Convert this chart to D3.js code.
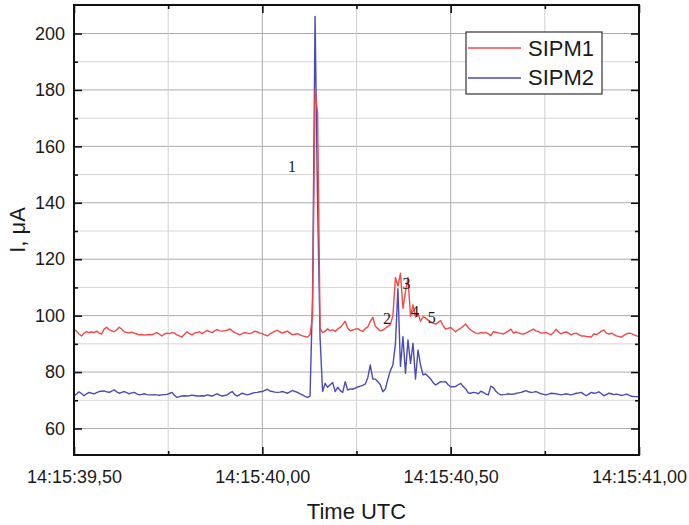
<!DOCTYPE html>
<html>
<head>
<meta charset="utf-8">
<script src="https://cdn.jsdelivr.net/npm/d3@7"></script>
<style>
  body { margin: 0; background: #fff; }
  svg text { font-family: "Liberation Sans", Arial, sans-serif; fill: #1a1a1a; }
</style>
</head>
<body>
<div id="chart"></div>
<script>
// sampling grid of the recording (seconds after 14:15:00), 150 samples per second
var T0 = 39.5, DT = 1 / 150;

var sipm1 = [
  95.0, 94.5, 93.5, 92.8, 93.8, 94.3, 94.0, 94.2, 94.0, 94.5, 93.8, 93.5, 95.2, 95.9, 95.0, 94.6,
  94.3, 95.0, 95.9, 95.2, 94.3, 94.0, 93.9, 94.1, 93.8, 93.5, 93.2, 93.3, 93.1, 93.2, 93.3, 93.2,
  93.6, 94.0, 93.4, 92.8, 93.5, 93.8, 93.6, 94.0, 93.8, 93.2, 92.8, 92.4, 93.4, 94.3, 93.6, 93.2,
  93.8, 94.0, 94.3, 93.6, 94.2, 94.8, 94.3, 94.0, 94.6, 95.0, 94.6, 94.5, 94.7, 94.8, 95.3, 94.6,
  94.0, 93.6, 93.2, 93.6, 94.0, 93.8, 93.6, 94.0, 94.5, 94.2, 93.8, 93.6, 93.2, 92.8, 93.5, 94.0,
  94.5, 94.8, 94.2, 93.8, 94.2, 94.5, 93.8, 93.2, 93.4, 93.6, 93.2, 92.8, 92.6, 92.4, 93.2, 100.0,
  180.0, 172.0, 95.5, 94.0, 94.5, 95.3, 94.6, 95.0, 94.4, 95.3, 95.8, 96.8, 98.0, 95.5, 94.6, 94.9,
  95.2, 95.4, 94.8, 94.4, 95.4, 96.0, 98.0, 99.4, 96.2, 95.4, 94.6, 94.9, 95.5, 96.2, 96.8, 100.0,
  113.5, 110.5, 115.0, 102.6, 108.5, 113.5, 99.8, 103.8, 99.6, 100.8, 98.0, 99.6, 99.2, 98.4, 97.9, 97.3,
  97.0, 97.6, 98.2, 96.4, 95.2, 95.5, 95.8, 95.0, 94.3, 95.0, 95.5, 96.3, 97.0, 95.8, 94.9, 94.3,
  93.8, 93.6, 94.0, 93.8, 94.0, 93.6, 92.9, 94.3, 94.1, 93.9, 93.7, 93.5, 94.0, 94.6, 95.2, 93.8,
  94.2, 93.9, 93.6, 93.5, 93.8, 94.3, 94.8, 95.2, 94.6, 94.3, 93.8, 93.9, 94.0, 93.6, 93.2, 94.0,
  95.2, 94.2, 93.5, 94.0, 94.2, 93.8, 93.2, 93.6, 93.8, 93.3, 92.8, 92.8, 92.6, 92.5, 92.4, 93.5,
  93.3, 93.8, 94.5, 94.9, 93.8, 93.5, 93.8, 93.3, 92.8, 92.6, 92.4, 93.0, 93.5, 93.8, 93.6, 93.2,
  92.8, 92.6
];

var sipm2 = [
  71.5, 72.2, 73.0, 72.4, 71.6, 72.3, 72.8, 72.5, 72.3, 72.7, 73.1, 73.2, 73.3, 73.0, 72.8, 73.2,
  73.7, 73.0, 72.5, 72.8, 73.1, 72.7, 72.3, 72.6, 72.8, 72.3, 71.9, 72.1, 72.3, 72.0, 71.9, 71.9,
  72.0, 71.9, 71.8, 71.9, 72.0, 72.1, 72.4, 72.8, 71.8, 71.0, 71.3, 71.5, 71.6, 71.5, 71.6, 71.8,
  71.7, 71.5, 71.5, 71.6, 71.5, 71.9, 71.7, 71.5, 71.9, 72.3, 71.8, 71.5, 71.7, 71.9, 72.6, 73.1,
  72.0, 71.5, 72.0, 72.5, 72.2, 71.9, 72.2, 72.5, 72.7, 72.8, 73.0, 73.1, 73.5, 73.9, 73.3, 73.1,
  72.9, 72.8, 72.9, 73.1, 72.8, 72.5, 73.0, 73.5, 73.1, 72.8, 72.3, 71.9, 71.4, 71.0, 71.5, 107.0,
  206.0, 140.0, 92.0, 73.1, 76.0, 74.6, 75.5, 76.3, 73.1, 74.6, 73.4, 72.8, 76.6, 73.6, 74.0, 73.9,
  74.3, 74.7, 75.0, 75.3, 75.8, 78.0, 82.5, 77.5, 77.5, 76.6, 75.5, 73.0, 74.0, 77.5, 80.5, 82.5,
  90.0, 109.5, 82.0, 92.5, 79.6, 91.4, 83.1, 90.2, 77.5, 87.8, 82.5, 79.0, 79.3, 78.5, 77.6, 76.3,
  75.4, 76.0, 76.6, 76.5, 76.6, 75.5, 74.8, 74.8, 74.9, 75.5, 76.0, 74.9, 74.0, 72.6, 72.5, 72.8,
  72.7, 72.3, 73.2, 72.8, 72.2, 71.9, 75.0, 74.5, 73.2, 72.4, 71.9, 72.0, 72.1, 72.3, 72.1, 72.2,
  72.4, 72.6, 72.8, 73.1, 73.4, 73.0, 72.8, 72.9, 73.1, 72.7, 72.3, 72.1, 71.9, 72.2, 72.5, 72.4,
  72.3, 72.1, 71.9, 72.1, 72.3, 72.1, 71.9, 72.2, 72.5, 72.6, 72.8, 72.2, 71.6, 72.2, 72.8, 72.5,
  72.6, 73.0, 72.4, 71.6, 72.0, 72.5, 72.3, 72.0, 72.2, 72.0, 71.7, 71.9, 72.2, 71.8, 71.4, 71.3,
  71.3, 71.2
];

var seriesNames = ['SIPM1', 'SIPM2'];
var seriesColors = ['#f24848', '#4a4ab8'];

var xTicks = [39.5, 40.0, 40.5, 41.0];
var xTickLabels = ['14:15:39,50', '14:15:40,00', '14:15:40,50', '14:15:41,00'];
var xMinor = [39.75, 40.25, 40.75];
var yTicks = [60, 80, 100, 120, 140, 160, 180, 200];
var yMinor = [70, 90, 110, 130, 150, 170, 190];

// peak labels in data units (time, value at baseline)
var peakLabels = ['1', '2', '3', '4', '5'];
var peakTimes = [40.079, 40.331, 40.383, 40.405, 40.450];
var peakValues = [150.9, 97.1, 109.5, 99.5, 97.4];

var margin = {top: 5, right: 50, bottom: 70, left: 74},
    width = 689 - margin.left - margin.right,
    height = 525 - margin.top - margin.bottom;

var svg = d3.select('#chart')
  .append('svg')
    .attr('width', 689)
    .attr('height', 525)
  .append('g')
    .attr('transform', 'translate(' + margin.left + ',' + margin.top + ')');

var x = d3.scaleLinear().domain([39.5, 41.0]).range([0, width]);
var y = d3.scaleLinear().domain([50.6, 210.1]).range([height, 0]);

// grid
svg.append('g').selectAll('line')
  .data(yMinor)
  .enter().append('line')
    .attr('x1', 0).attr('x2', width)
    .attr('y1', function(d) { return y(d); }).attr('y2', function(d) { return y(d); })
    .attr('stroke', '#d6d6d6').attr('stroke-width', 1);
svg.append('g').selectAll('line')
  .data(yTicks)
  .enter().append('line')
    .attr('x1', 0).attr('x2', width)
    .attr('y1', function(d) { return y(d); }).attr('y2', function(d) { return y(d); })
    .attr('stroke', '#ababab').attr('stroke-width', 1);
svg.append('g').selectAll('line')
  .data(xMinor)
  .enter().append('line')
    .attr('y1', 0).attr('y2', height)
    .attr('x1', function(d) { return x(d); }).attr('x2', function(d) { return x(d); })
    .attr('stroke', '#d0d0d0').attr('stroke-width', 1);
svg.append('g').selectAll('line')
  .data(xTicks.slice(1, 3))
  .enter().append('line')
    .attr('y1', 0).attr('y2', height)
    .attr('x1', function(d) { return x(d); }).attr('x2', function(d) { return x(d); })
    .attr('stroke', '#ababab').attr('stroke-width', 1);

// lines, SIPM1 drawn last so the red spike stays visible
var line = d3.line()
  .x(function(d, i) { return x(T0 + i * DT); })
  .y(function(d) { return y(d); });

[[sipm2, seriesColors[1]], [sipm1, seriesColors[0]]].forEach(function(s) {
  svg.append('path')
    .datum(s[0])
    .attr('fill', 'none')
    .attr('stroke', s[1])
    .attr('stroke-width', 1.4)
    .attr('stroke-linejoin', 'round')
    .attr('d', line);
});

// axes: ticks pointing inward on all four sides
function styleAxis(g) {
  g.select('.domain').remove();
  g.selectAll('line').attr('stroke', '#111').attr('stroke-width', 1.6);
  g.selectAll('text').style('font-size', '18px').attr('fill', '#1a1a1a');
}

svg.append('g')
    .attr('transform', 'translate(0,' + height + ')')
    .call(d3.axisBottom(x).tickValues(xTicks).tickSize(-8).tickPadding(15.5)
      .tickFormat(function(d, i) { return xTickLabels[i]; }))
    .call(styleAxis);
svg.append('g')
    .attr('transform', 'translate(0,' + height + ')')
    .call(d3.axisBottom(x).tickValues(xMinor).tickSize(-4).tickFormat(''))
    .call(styleAxis);
svg.append('g')
    .call(d3.axisTop(x).tickValues(xTicks).tickSize(-8).tickFormat(''))
    .call(styleAxis);
svg.append('g')
    .call(d3.axisTop(x).tickValues(xMinor).tickSize(-4).tickFormat(''))
    .call(styleAxis);

svg.append('g')
    .call(d3.axisLeft(y).tickValues(yTicks).tickSize(-8).tickPadding(9))
    .call(styleAxis);
svg.append('g')
    .call(d3.axisLeft(y).tickValues(yMinor).tickSize(-4).tickFormat(''))
    .call(styleAxis);
svg.append('g')
    .attr('transform', 'translate(' + width + ',0)')
    .call(d3.axisRight(y).tickValues(yTicks).tickSize(-8).tickFormat(''))
    .call(styleAxis);
svg.append('g')
    .attr('transform', 'translate(' + width + ',0)')
    .call(d3.axisRight(y).tickValues(yMinor).tickSize(-4).tickFormat(''))
    .call(styleAxis);

// frame
svg.append('rect')
    .attr('width', width).attr('height', height)
    .attr('fill', 'none').attr('stroke', '#111').attr('stroke-width', 2);

// axis titles
svg.append('text')
    .attr('x', width / 2).attr('y', height + 64)
    .attr('text-anchor', 'middle')
    .style('font-size', '22px')
    .text('Time UTC');
svg.append('text')
    .attr('transform', 'translate(' + (25 - margin.left) + ',' + (height / 2) + ')rotate(-90)')
    .attr('text-anchor', 'middle')
    .style('font-size', '22px')
    .text('I, \u03bcA');

// peak numbers
svg.append('g').selectAll('text')
  .data(peakLabels)
  .enter().append('text')
    .attr('x', function(d, i) { return x(peakTimes[i]); })
    .attr('y', function(d, i) { return y(peakValues[i]); })
    .attr('text-anchor', 'middle')
    .style('font-family', '"Liberation Serif", "Times New Roman", serif')
    .style('font-size', '16px')
    .attr('fill', '#111')
    .text(function(d) { return d; });

// legend
var legend = svg.append('g').attr('transform', 'translate(' + (466 - margin.left) + ',' + (32 - margin.top) + ')');
legend.append('rect')
    .attr('width', 136).attr('height', 62)
    .attr('fill', '#fff').attr('stroke', '#333').attr('stroke-width', 1.2);
seriesNames.forEach(function(name, k) {
  legend.append('line')
    .attr('x1', 2).attr('x2', 55)
    .attr('y1', 16 + k * 30).attr('y2', 16 + k * 30)
    .attr('stroke', seriesColors[k]).attr('stroke-width', 1.6);
  legend.append('text')
    .attr('x', 62).attr('y', 24 + k * 29)
    .style('font-size', '22px')
    .text(name);
});
</script>
</body>
</html>
